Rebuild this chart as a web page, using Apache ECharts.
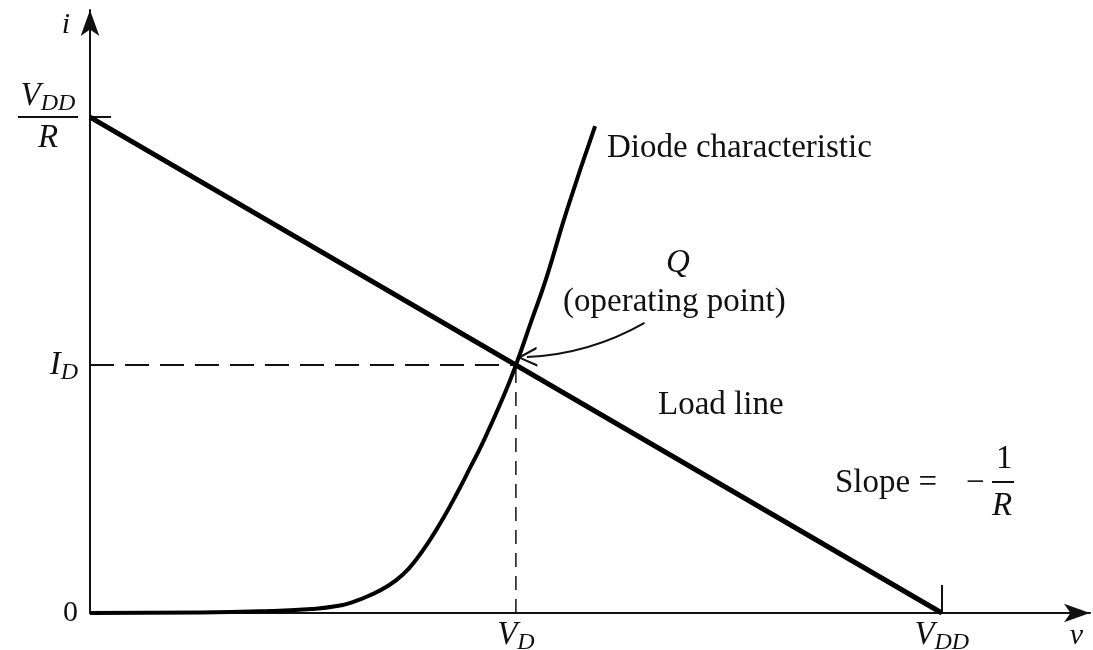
<!DOCTYPE html>
<html>
<head>
<meta charset="utf-8">
<script src="https://cdn.jsdelivr.net/npm/echarts@6/dist/echarts.min.js"></script>
<style>
  html, body { margin: 0; padding: 0; background: #fff; }
  #chart { width: 1093px; height: 650px; }
</style>
</head>
<body>
<div id="chart"></div>
<script>
// operating values (arbitrary units, V_DD = 10, V_DD/R = 10)
const VDD = 10;
const VDD_R = 10;
const VD = 5;
const ID = 5;

// diode characteristic
const diodeV = [0, 1.29, 2.11, 2.60, 2.90, 3.10, 3.29, 3.50, 3.67, 3.83, 3.99, 4.15, 4.31, 4.46, 4.61, 4.85, 5.0, 5.18, 5.36, 5.60, 5.93];
const diodeI = [0, 0.01, 0.04, 0.08, 0.14, 0.23, 0.36, 0.55, 0.77, 1.08, 1.47, 1.92, 2.42, 2.92, 3.43, 4.35, 5.0, 5.88, 6.77, 8.13, 9.82];

// load line end points
const loadV = [0, VDD];
const loadI = [VDD_R, 0];

// pointer from the "operating point" note to Q
const pointerFrom = [6.51, 5.85];
const pointerTo = [5.13, 5.16];

// tick labels
const xTicks = [VD, VDD];
const yTicks = [0, ID, VDD_R];

const serif = '"Liberation Serif", "DejaVu Serif", serif';

const rich = {
  it: { fontFamily: serif, fontStyle: 'italic', fontSize: 33, lineHeight: 40, color: '#111', align: 'center' },
  sub: { fontFamily: serif, fontStyle: 'italic', fontSize: 24, lineHeight: 20, verticalAlign: 'bottom', color: '#111', align: 'center' },
  n: { fontFamily: serif, fontSize: 30, color: '#111' },
  bar: { width: 60, height: 2, lineHeight: 2, backgroundColor: '#111', align: 'center' }
};

const diodeData = diodeV.map((v, k) => [v, diodeI[k]]);
const loadData = loadV.map((v, k) => [v, loadI[k]]);

// open chevron arrow head
const chevron = 'path://M10,0 L20,22 L17.5,22 L10,5 L2.5,22 L0,22 Z';

const chart = echarts.init(document.getElementById('chart'));
chart.setOption({
  animation: false,
  grid: { left: 90, right: 3, top: 10, bottom: 37, outerBoundsMode: 'none', containLabel: false },
  xAxis: {
    type: 'value',
    min: 0,
    max: 11.74,
    name: 'v',
    nameLocation: 'end',
    nameGap: 0,
    nameTextStyle: { fontFamily: serif, fontStyle: 'italic', fontSize: 30, color: '#111', align: 'right', verticalAlign: 'top', padding: [8, 7, 0, 0] },
    axisLine: { show: true, symbol: ['none', 'arrow'], symbolSize: [14, 26], lineStyle: { color: '#111', width: 2 } },
    axisTick: { show: true, inside: true, length: 28, customValues: [VDD], lineStyle: { color: '#111', width: 2 } },
    axisLabel: {
      customValues: xTicks,
      margin: 2,
      rich: rich,
      formatter: v => v === VD ? '{it|V}{sub|D}' : '{it|V}{sub|DD}'
    },
    splitLine: { show: false }
  },
  yAxis: {
    type: 'value',
    min: 0,
    max: 12.16,
    name: 'i',
    nameLocation: 'end',
    nameGap: 0,
    nameTextStyle: { fontFamily: serif, fontStyle: 'italic', fontSize: 30, color: '#111', align: 'right', verticalAlign: 'top', padding: [0, 20, 0, 0] },
    axisLine: { show: true, symbol: ['none', 'arrow'], symbolSize: [14, 26], lineStyle: { color: '#111', width: 2 } },
    axisTick: { show: true, inside: true, length: 21, customValues: [VDD_R], lineStyle: { color: '#111', width: 2 } },
    axisLabel: {
      customValues: yTicks,
      margin: 12,
      rich: rich,
      formatter: v => {
        if (v === 0) return '{n|0}';
        if (v === ID) return '{it|I}{sub|D}';
        return '{it|V}{sub|DD}\n{bar| }\n{it|R}';
      }
    },
    splitLine: { show: false }
  },
  series: [
    {
      name: 'I_D',
      type: 'line',
      data: [[0, ID], [VD, ID]],
      symbol: 'none',
      lineStyle: { color: '#111', width: 2, type: [24, 11] },
      z: 1
    },
    {
      name: 'V_D',
      type: 'line',
      data: [[VD, 0], [VD, ID]],
      symbol: 'none',
      lineStyle: { color: '#111', width: 1.5, type: [14, 9] },
      z: 1
    },
    {
      name: 'Load line',
      type: 'line',
      data: loadData,
      symbol: 'none',
      lineStyle: { color: '#000', width: 5 }
    },
    {
      name: 'Diode characteristic',
      type: 'line',
      data: diodeData,
      smooth: 0.5,
      symbol: 'none',
      lineStyle: { color: '#000', width: 4 }
    },
    {
      name: 'pointer',
      type: 'lines',
      coordinateSystem: 'cartesian2d',
      silent: true,
      symbol: ['none', chevron],
      symbolSize: [16, 20],
      lineStyle: { color: '#111', width: 2, opacity: 1, curveness: 0.12 },
      data: [{ coords: [pointerFrom, pointerTo] }]
    }
  ],
  graphic: [
    { type: 'text', left: 607, top: 132, style: { text: 'Diode characteristic', font: '33px ' + serif, fill: '#111' } },
    { type: 'text', left: 666, top: 247, style: { text: 'Q', font: 'italic 33px ' + serif, fill: '#111' } },
    { type: 'text', left: 563, top: 286, style: { text: '(operating point)', font: '33px ' + serif, fill: '#111' } },
    { type: 'text', left: 658, top: 389, style: { text: 'Load line', font: '33px ' + serif, fill: '#111' } },
    { type: 'text', left: 835, top: 467, style: { text: 'Slope =', font: '33px ' + serif, fill: '#111' } },
    { type: 'text', left: 966, top: 467, style: { text: '\u2212', font: '33px ' + serif, fill: '#111' } },
    { type: 'text', left: 996, top: 443, style: { text: '1', font: '33px ' + serif, fill: '#111' } },
    { type: 'rect', shape: { x: 992, y: 481, width: 22, height: 2 }, style: { fill: '#111' } },
    { type: 'text', left: 992, top: 490, style: { text: 'R', font: 'italic 33px ' + serif, fill: '#111' } }
  ]
});
</script>
</body>
</html>
